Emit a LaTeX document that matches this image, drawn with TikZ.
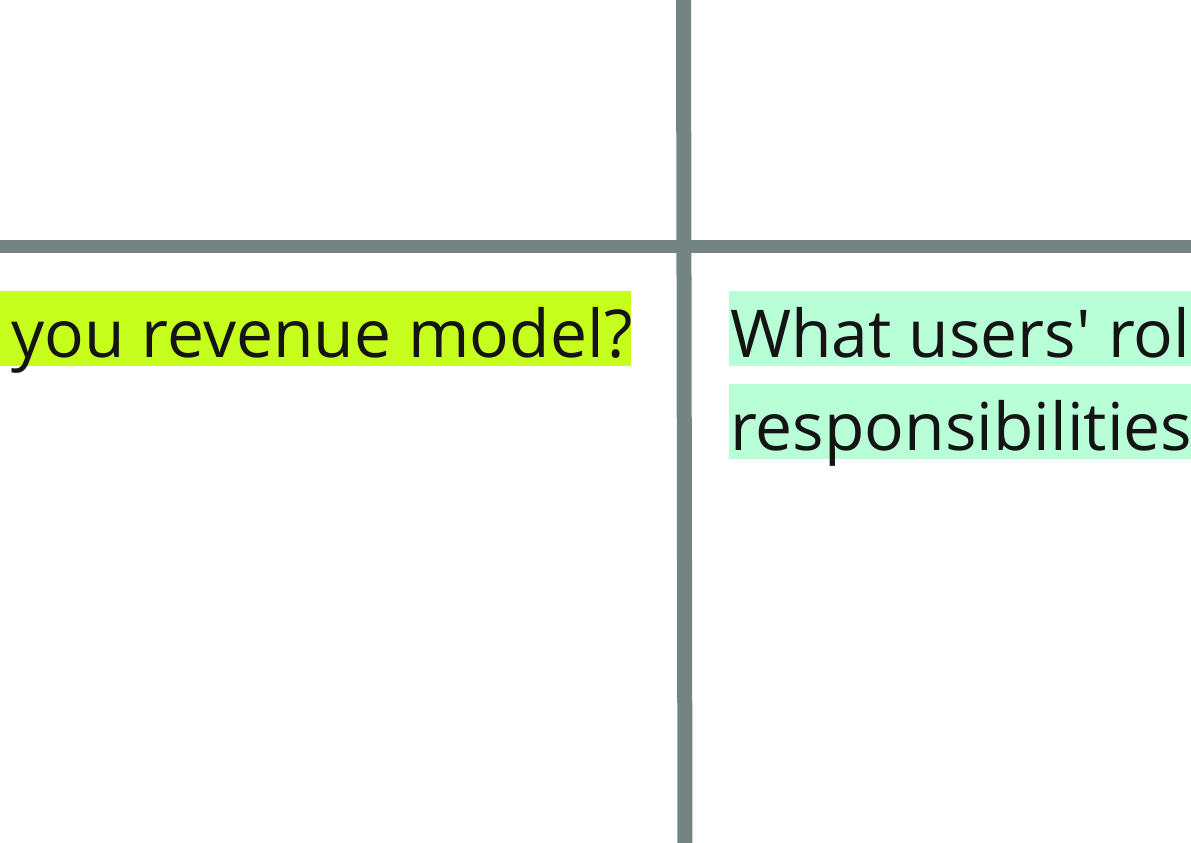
\documentclass[tikz,border=0pt]{standalone}
\usepackage{fontspec}
\setmainfont{Open Sans}
\definecolor{gridline}{HTML}{748482}
\definecolor{limehl}{HTML}{C6FF1E}
\definecolor{minthl}{HTML}{B8FFD8}
\definecolor{ink}{HTML}{141414}
\begin{document}
\begin{tikzpicture}[x=1pt,y=-1pt,
  label/.style={anchor=base west,inner sep=0pt,text=ink,font=\fontsize{66}{93}\selectfont}]
\useasboundingbox (0,0) rectangle (1191,843);
% highlight bands behind the text
\fill[limehl] (0,291) rectangle (631,366);
\fill[minthl] (729,291) rectangle (1200,366);
\fill[minthl] (729,384) rectangle (1200,459);
% grid lines
\draw[gridline,line width=13pt] (0,246.5) -- (1191,246.5);
\draw[gridline,line width=15pt] (683.5,-5) -- (685,850);
% texts
\node[label] (q1) at (11,357) {you revenue model?};
\node[label] (q2a) at (730,357) {What users\textquotesingle{} role};
\node[label] (q2b) at (730,450) {responsibilities};
\end{tikzpicture}
\end{document}
